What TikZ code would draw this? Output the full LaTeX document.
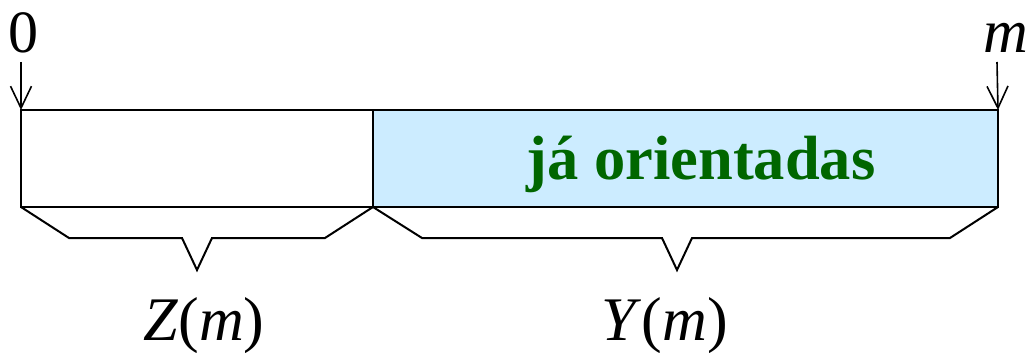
\documentclass[tikz,border=0pt]{standalone}
\usepackage{fontspec}
\setmainfont{Liberation Serif}
\usetikzlibrary{arrows.meta}
\definecolor{boxblue}{HTML}{CCECFF}
\definecolor{textgreen}{HTML}{006600}
\begin{document}
\begin{tikzpicture}[x=1pt,y=-1pt,
  seg/.style={draw=black,line width=2pt,minimum height=97pt,inner sep=0pt,outer sep=0pt,anchor=north west},
  brace/.style={draw=black,line width=2pt,line join=miter},
  pointer/.style={draw=black,line width=1.6pt,-{Straight Barb[length=22pt,width=21pt,line width=1.6pt]}},
  lbl/.style={font=\fontsize{62}{62}\selectfont,inner sep=0pt,anchor=base}]
\useasboundingbox (0,0) rectangle (1034,353);

% the two segments of the array
\node[seg,minimum width=352pt] (zbox) at (21,110) {};
\node[seg,minimum width=625pt,fill=boxblue] (ybox) at (373,110) {};
\node[lbl,font=\fontsize{62.5}{62.5}\selectfont\bfseries,text=textgreen] (done) at (701,179) {já orientadas};

% index markers
\node[lbl,font=\fontsize{60}{60}\selectfont] (zero) at (24,53) {0};
\node[lbl] (mend) at (1006,53) {\textit{m}};
\coordinate (zt) at (21,62);
\coordinate (mt) at (997,62);
\draw[pointer] (zt) -- (zbox.north west);
\draw[pointer] (mt) -- (ybox.north east);

% braces under the segments
\draw[brace] (zbox.south west) -- (69,238) -- (182,238) -- (197,270) -- (212,238)
  -- (325,238) -- (zbox.south east);
\draw[brace] (ybox.south west) -- (422,238) -- (662,238) -- (677,270) -- (692,238)
  -- (950,238) -- (ybox.south east);

% brace labels
\node[lbl] (zlab) at (204,340) {\textit{Z}(\textit{m})};
\node[lbl] (ylab) at (665,340) {\textit{Y}(\textit{m})};
\end{tikzpicture}
\end{document}
